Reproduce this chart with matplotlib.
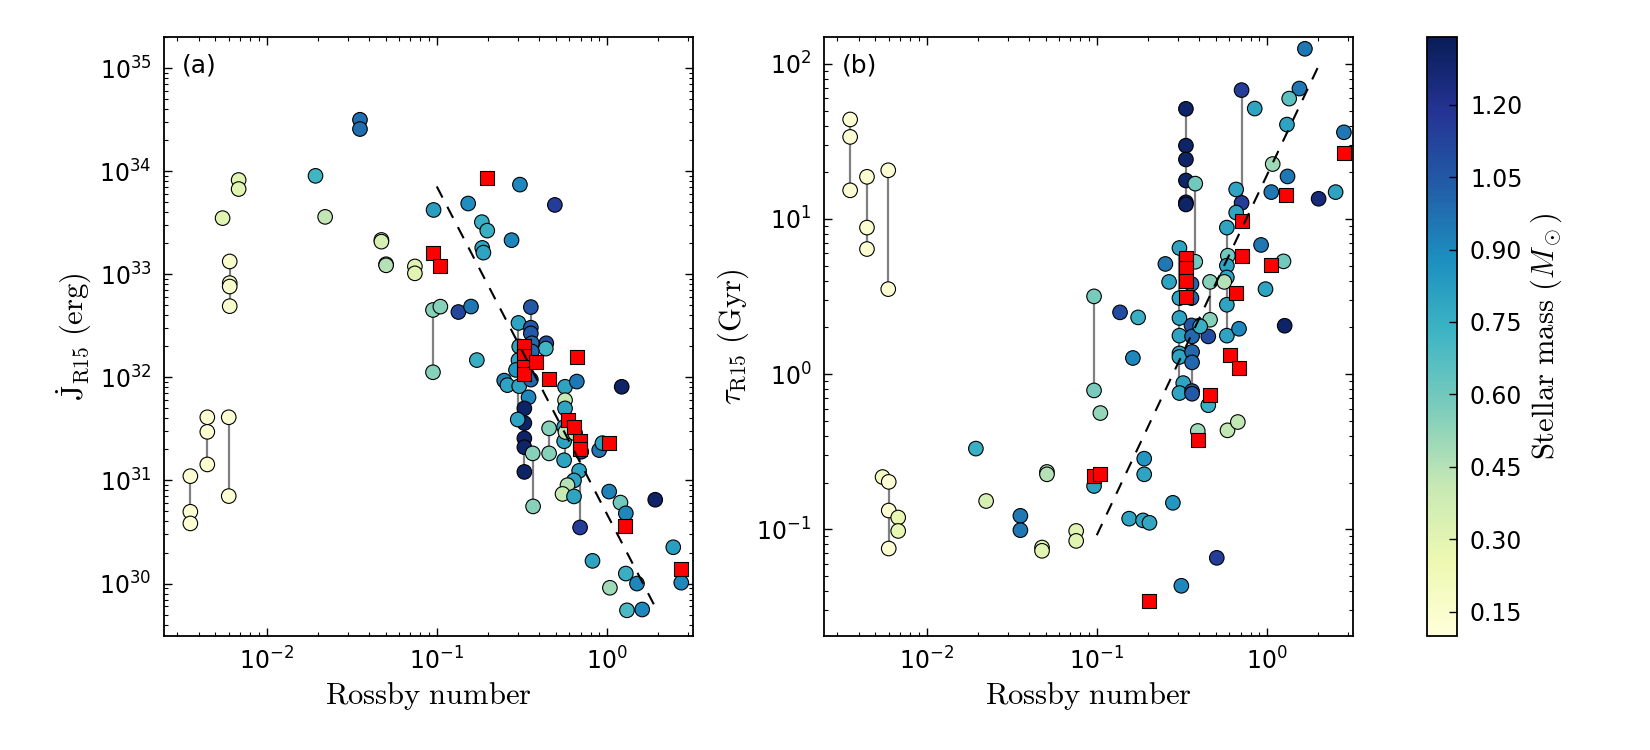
import numpy as np
import matplotlib
matplotlib.use("Agg")
import matplotlib.pyplot as plt

# ---- panel (a): spin-down torque vs Rossby number ----
ro_a = [0.00357, 0.00357, 0.00357, 0.00449, 0.00449, 0.00449, 0.0060, 0.0060,
        0.00608, 0.00608, 0.00608, 0.00608, 0.00686, 0.00686, 0.00552,
        0.0194, 0.0221, 0.0354, 0.0354, 0.0473, 0.0473, 0.0504, 0.0504,
        0.0744, 0.0744, 0.0958, 0.153, 0.184, 0.198, 0.185, 0.188,
        0.275, 0.308, 0.494, 0.095, 0.105, 0.095, 0.134, 0.159,
        0.357, 0.302, 0.357, 0.357, 0.44, 0.437, 0.172,
        0.305, 0.362, 0.362, 0.302, 0.292, 0.249, 0.26, 0.305, 0.357, 0.346,
        0.327, 0.327, 0.299, 0.327, 0.327, 0.327, 0.366, 0.368, 0.457, 0.457,
        0.567, 0.665, 1.22, 0.567, 0.567, 0.56, 0.56, 0.56, 0.57, 0.65,
        0.686, 0.64, 0.586, 0.548, 0.64, 0.695, 0.706, 0.9, 0.94,
        1.03, 1.2, 1.29, 1.92, 0.822, 1.29, 1.04, 1.5, 1.31, 1.61, 2.45, 2.73]
j_a = [1.1e31, 4.97e30, 3.83e30, 4.1e31, 2.96e31, 1.43e31, 4.1e31, 7.05e30,
       1.33e33, 8.2e32, 7.6e32, 4.9e32, 8.2e33, 6.7e33, 3.5e33,
       9.0e33, 3.6e33, 3.15e34, 2.56e34, 2.15e33, 2.07e33, 1.25e33, 1.22e33,
       1.19e33, 1.02e33, 4.2e33, 4.85e33, 3.2e33, 2.65e33, 1.8e33, 1.62e33,
       2.14e33, 7.4e33, 4.7e33, 4.5e32, 4.85e32, 1.12e32, 4.3e32, 4.86e32,
       4.8e32, 3.37e32, 3.03e32, 2.67e32, 2.14e32, 1.9e32, 1.47e32,
       1.99e32, 2.14e32, 1.78e32, 1.47e32, 1.18e32, 9.3e31, 8.4e31, 8.2e31, 9.5e31, 6.4e31,
       5.0e31, 3.6e31, 3.9e31, 2.56e31, 2.1e31, 1.21e31, 1.83e31, 5.6e30, 3.2e31, 1.83e31,
       8.1e31, 9.1e31, 8.1e31, 6.0e31, 5.0e31, 3.3e31, 2.4e31, 1.57e31, 2.95e31, 2.86e31,
       1.24e31, 1.0e31, 9.0e30, 7.4e30, 7.0e30, 3.5e30, 1.9e31, 1.97e31, 2.3e31,
       7.8e30, 6.1e30, 4.8e30, 6.5e30, 1.66e30, 1.25e30, 9.1e29, 1.0e30, 5.5e29, 5.6e29, 2.25e30, 1.02e30]
m_a = [0.12, 0.12, 0.12, 0.13, 0.13, 0.13, 0.12, 0.12,
       0.15, 0.15, 0.15, 0.15, 0.30, 0.30, 0.30,
       0.72, 0.42, 0.98, 0.98, 0.35, 0.35, 0.45, 0.45,
       0.30, 0.30, 0.82, 0.88, 0.75, 0.75, 0.80, 0.80,
       0.90, 0.90, 1.15, 0.55, 0.55, 0.55, 1.12, 0.95,
       1.05, 0.80, 1.05, 1.05, 1.10, 0.72, 0.75,
       0.80, 1.00, 1.00, 0.80, 0.85, 0.92, 0.80, 0.80, 1.00, 0.90,
       1.30, 1.30, 0.80, 1.30, 1.30, 1.30, 0.55, 0.55, 0.55, 0.55,
       0.80, 0.95, 1.30, 0.40, 0.80, 0.80, 0.80, 0.80, 0.42, 0.42,
       0.80, 0.80, 0.45, 0.40, 0.80, 1.15, 1.15, 0.95, 0.80,
       0.92, 0.60, 0.90, 1.30, 0.80, 0.75, 0.50, 0.90, 0.70, 0.90, 0.82, 0.90]

ro_sq_a = [0.0953, 0.104, 0.198, 0.324, 0.324, 0.324, 0.324, 0.382, 0.665,
           0.455, 0.594, 0.641, 0.698, 0.698, 1.03, 1.27, 2.73]
j_sq_a = [1.6e33, 1.2e33, 8.55e33, 2.0e32, 1.61e32, 1.26e32, 1.07e32, 1.42e32, 1.58e32,
          9.6e31, 3.9e31, 3.3e31, 2.4e31, 2.0e31, 2.3e31, 3.65e30, 1.39e30]

# vertical connectors (same star, two estimates)
link_ro_a = [0.00357, 0.00449, 0.0060, 0.00608, 0.095, 0.302, 0.327, 0.357, 0.366, 0.457, 0.567, 0.695]
link_lo_a = [4.97e30, 1.43e31, 7.05e30, 4.9e32, 1.12e32, 3.9e31, 1.21e31, 9.5e31, 5.6e30, 1.83e31, 1.57e31, 3.5e30]
link_hi_a = [1.1e31, 4.1e31, 4.1e31, 1.33e33, 4.5e32, 3.37e32, 5.0e31, 4.8e32, 1.83e31, 3.2e31, 8.1e31, 1.9e31]

fit_ro_a = [0.1, 2.0]
fit_j_a = [7.1e33, 5.2e29]

# ---- panel (b): spin-down timescale vs Rossby number ----
ro_b = [0.00356, 0.00356, 0.00356, 0.00447, 0.00447, 0.00447, 0.00596, 0.00596,
        0.00552, 0.0060, 0.0060, 0.0060, 0.00682, 0.00682,
        0.0195, 0.0224, 0.0356, 0.0356, 0.0477, 0.0477, 0.051, 0.051, 0.0757, 0.0757,
        0.0964, 0.0964, 0.105, 0.0964, 0.137, 0.175, 0.163,
        0.155, 0.187, 0.204, 0.19, 0.19, 0.28, 0.507, 0.314,
        0.334, 0.334, 0.334, 0.334, 0.334, 0.334, 0.379, 0.379,
        0.709, 0.709, 0.847, 1.67, 1.55, 1.35, 1.31,
        2.83, 1.08, 1.32, 1.06, 2.01, 2.53,
        0.659, 0.659, 0.581, 0.923, 0.589, 1.25, 0.98,
        0.581, 0.581, 0.561, 0.463, 0.463, 0.581, 0.581, 0.685, 1.27,
        0.452, 0.398, 0.36, 0.306, 0.253, 0.266,
        0.36, 0.306, 0.36, 0.306, 0.306, 0.363, 0.405,
        0.306, 0.306, 0.363, 0.363, 0.322, 0.306, 0.363, 0.363,
        0.452, 0.392, 0.586, 0.674]
tau_b = [43.8, 33.8, 15.3, 18.7, 8.8, 6.4, 20.6, 3.53,
         0.217, 0.202, 0.132, 0.0751, 0.119, 0.0975,
         0.331, 0.152, 0.122, 0.0986, 0.0762, 0.0726, 0.234, 0.226, 0.0975, 0.0841,
         3.17, 0.785, 0.561, 0.19, 2.5, 2.32, 1.27,
         0.117, 0.114, 0.11, 0.285, 0.226, 0.148, 0.0654, 0.0432,
         51.3, 29.7, 24.2, 17.7, 12.8, 12.4, 16.9, 5.3,
         67.7, 12.7, 51.5, 125.0, 69.3, 59.7, 40.6,
         36.2, 22.6, 18.8, 14.9, 13.5, 14.9,
         15.5, 11.0, 8.8, 6.8, 5.8, 5.33, 3.53,
         5.0, 4.2, 3.93, 3.93, 2.24, 2.8, 1.77, 1.96, 2.05,
         1.75, 2.05, 2.06, 6.5, 5.13, 3.93,
         3.81, 3.09, 3.09, 2.3, 1.77, 1.75, 2.03,
         1.36, 1.29, 1.39, 1.19, 0.875, 0.755, 0.777, 0.747,
         0.63, 0.43, 0.434, 0.491]
m_b = [0.12, 0.12, 0.12, 0.13, 0.13, 0.13, 0.12, 0.12,
       0.20, 0.12, 0.12, 0.12, 0.28, 0.28,
       0.75, 0.35, 0.95, 0.95, 0.30, 0.30, 0.45, 0.45, 0.30, 0.30,
       0.58, 0.58, 0.52, 0.80, 1.10, 0.75, 0.90,
       0.80, 0.80, 0.78, 0.85, 0.80, 0.85, 1.15, 0.90,
       1.30, 1.30, 1.30, 1.30, 1.30, 1.30, 0.60, 0.60,
       1.15, 1.15, 0.80, 0.95, 0.95, 0.65, 0.80,
       0.95, 0.50, 0.95, 0.95, 1.25, 0.80,
       0.80, 0.80, 0.80, 0.95, 0.60, 0.60, 0.80,
       0.80, 0.80, 0.45, 0.55, 0.55, 0.80, 0.80, 0.90, 1.30,
       1.10, 1.00, 1.05, 0.80, 0.95, 0.80,
       1.00, 0.80, 1.00, 0.80, 0.80, 1.00, 0.75,
       0.80, 0.80, 1.00, 1.00, 0.80, 0.80, 1.05, 1.05,
       0.75, 0.50, 0.42, 0.42]

ro_sq_b = [0.334, 0.334, 0.334, 0.334, 0.71, 0.71, 1.06, 0.659, 1.30, 2.83,
           0.604, 0.682, 0.463, 0.392, 0.0964, 0.105, 0.202]
tau_sq_b = [5.6, 4.83, 3.96, 3.13, 9.66, 5.8, 5.07, 3.33, 14.2, 26.7,
            1.32, 1.1, 0.73, 0.378, 0.22, 0.226, 0.0344]

link_ro_b = [0.00356, 0.00447, 0.00596, 0.0060, 0.0964, 0.334, 0.379, 0.363, 0.306, 0.709, 0.463, 0.581]
link_lo_b = [15.3, 6.4, 3.53, 0.0751, 0.785, 12.4, 5.3, 0.75, 0.755, 12.7, 2.24, 1.77]
link_hi_b = [43.8, 18.7, 20.6, 0.202, 3.17, 51.3, 16.9, 2.06, 6.5, 67.7, 3.93, 8.8]

fit_ro_b = [0.1, 2.0]
fit_tau_b = [0.0915, 96.0]

cbar_ticks = [0.15, 0.30, 0.45, 0.60, 0.75, 0.90, 1.05, 1.20]

plt.rcParams['font.size'] = 17
plt.rcParams['mathtext.fontset'] = 'cm'
plt.rcParams['axes.linewidth'] = 1.3
for ax_name in ['xtick', 'ytick']:
    plt.rcParams[ax_name + '.direction'] = 'in'
    plt.rcParams[ax_name + '.major.size'] = 6
    plt.rcParams[ax_name + '.minor.size'] = 3
    plt.rcParams[ax_name + '.major.width'] = 1.0
    plt.rcParams[ax_name + '.minor.width'] = 0.8
plt.rcParams['xtick.top'] = True
plt.rcParams['ytick.right'] = True
plt.rcParams['xtick.major.pad'] = 8
plt.rcParams['ytick.major.pad'] = 9

cmap = plt.get_cmap('YlGnBu')
vmin, vmax = 0.1, 1.34

fig = plt.figure(figsize=(16.5, 7.5), dpi=100)
ax1 = fig.add_axes([0.0994, 0.152, 0.3206, 0.7987])
ax2 = fig.add_axes([0.4994, 0.152, 0.3206, 0.7987])
cax = fig.add_axes([0.8648, 0.152, 0.0185, 0.7987])


def draw_panel(ax, ro, y, m, ro_sq, y_sq, lro, llo, lhi, fro, fy):
    ax.vlines(lro, llo, lhi, colors='grey', linewidth=1.6, zorder=1)
    sc = ax.scatter(ro, y, c=m, cmap=cmap, vmin=vmin, vmax=vmax, s=110,
                    edgecolors='k', linewidths=0.8, zorder=2)
    ax.scatter(ro_sq, y_sq, marker='s', c='red', s=95, edgecolors='k',
               linewidths=0.8, zorder=3)
    ax.plot(fro, fy, 'k--', linewidth=1.5, dashes=(6, 5), zorder=4)
    ax.set_xscale('log')
    ax.set_yscale('log')
    ax.set_xlim(0.0025, 3.2)
    ax.set_xlabel(r'$\mathrm{Rossby\ number}$', fontsize=22)
    return sc


sc = draw_panel(ax1, ro_a, j_a, m_a, ro_sq_a, j_sq_a, link_ro_a, link_lo_a, link_hi_a,
                fit_ro_a, fit_j_a)
ax1.set_ylim(3.1e29, 2e35)
ax1.set_ylabel(r'$\dot{\mathrm{J}}_{\mathrm{R15}}\ (\mathrm{erg})$', fontsize=22)
ax1.text(0.034, 0.953, '(a)', transform=ax1.transAxes, va='center', ha='left', fontsize=18)

draw_panel(ax2, ro_b, tau_b, m_b, ro_sq_b, tau_sq_b, link_ro_b, link_lo_b, link_hi_b,
           fit_ro_b, fit_tau_b)
ax2.set_ylim(0.0205, 149)
ax2.set_ylabel(r'$\tau_{\mathrm{R15}}\ (\mathrm{Gyr})$', fontsize=22)
ax2.text(0.034, 0.953, '(b)', transform=ax2.transAxes, va='center', ha='left', fontsize=18)

cb = fig.colorbar(sc, cax=cax, ticks=cbar_ticks, format='%.2f')
cb.ax.tick_params(direction='in', length=6, width=1.0)
cb.outline.set_linewidth(1.3)
cb.set_label(r'$\mathrm{Stellar\ mass}\ (M_\odot)$', fontsize=22)

fig.savefig('out.png', dpi=100)
plt.close()
